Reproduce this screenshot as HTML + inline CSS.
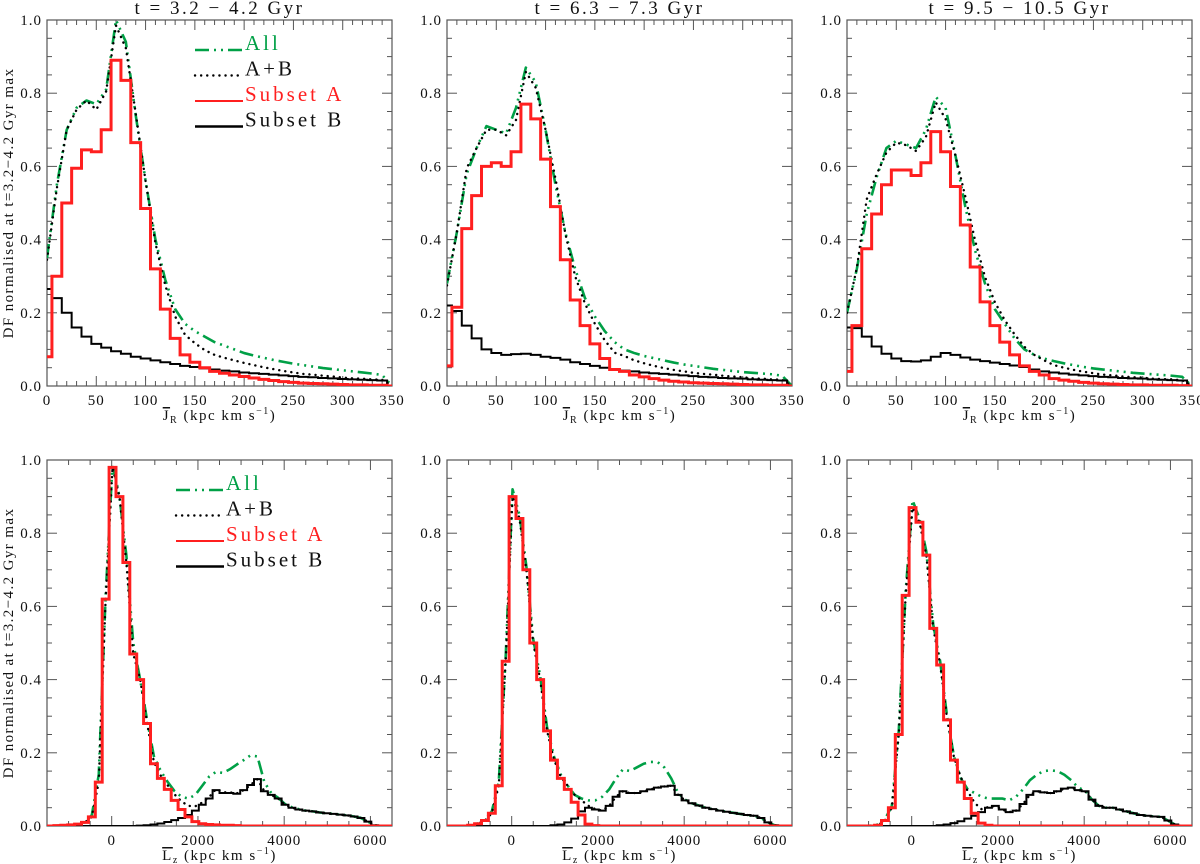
<!DOCTYPE html>
<html><head><meta charset="utf-8">
<style>
body{margin:0;background:#fff;}
svg{display:block;font-family:"Liberation Serif",serif;}
</style></head>
<body>
<svg id="chart" width="1200" height="864" viewBox="0 0 1200 864" xmlns="http://www.w3.org/2000/svg"></svg>
<script>
// ---------- Data: top row (J_R, bins of 10, centers 0..340) ----------
const jrCenters = [0,10,20,30,40,50,60,70,80,90,100,110,120,130,140,150,160,170,180,190,200,210,220,230,240,250,260,270,280,290,300,310,320,330,340];
const jrAllX = [0,10,20,30,40,50,60,70,80,90,100,110,120,130,140,150,160,170,180,190,200,210,220,230,240,250,260,270,280,290,300,310,320,330,340,350];
const jrTicks = [0,50,100,150,200,250,300,350];
const yTicks = [0.0,0.2,0.4,0.6,0.8,1.0];

const p1A = [0.08,0.30,0.50,0.595,0.645,0.64,0.70,0.89,0.835,0.665,0.485,0.32,0.21,0.13,0.085,0.065,0.05,0.04,0.035,0.03,0.026,0.022,0.018,0.015,0.012,0.01,0.008,0.007,0.006,0.005,0.004,0.003,0.003,0.002,0.002];
const p1B = [0.265,0.24,0.20,0.16,0.135,0.115,0.105,0.095,0.088,0.08,0.075,0.07,0.065,0.06,0.055,0.052,0.048,0.045,0.042,0.04,0.037,0.035,0.033,0.031,0.029,0.027,0.025,0.024,0.022,0.021,0.019,0.018,0.017,0.016,0.015];
const p1All = [0.35,0.55,0.70,0.76,0.78,0.77,0.81,1.0,0.94,0.74,0.56,0.40,0.29,0.21,0.17,0.15,0.135,0.12,0.11,0.10,0.09,0.083,0.077,0.071,0.066,0.061,0.057,0.053,0.049,0.046,0.043,0.04,0.037,0.034,0.03,0.0];

const p2A = [0.055,0.215,0.43,0.52,0.60,0.61,0.60,0.64,0.77,0.73,0.62,0.49,0.345,0.235,0.165,0.115,0.075,0.045,0.04,0.03,0.025,0.02,0.016,0.013,0.011,0.009,0.008,0.007,0.006,0.005,0.004,0.003,0.003,0.002,0.002];
const p2B = [0.22,0.205,0.165,0.13,0.10,0.09,0.085,0.087,0.088,0.085,0.08,0.077,0.072,0.065,0.06,0.055,0.05,0.046,0.042,0.04,0.037,0.035,0.033,0.031,0.029,0.027,0.025,0.024,0.022,0.021,0.02,0.018,0.017,0.016,0.015];
const p2All = [0.28,0.42,0.58,0.65,0.71,0.70,0.69,0.76,0.87,0.83,0.70,0.55,0.42,0.32,0.24,0.19,0.15,0.12,0.10,0.09,0.082,0.076,0.07,0.064,0.059,0.055,0.051,0.047,0.044,0.041,0.038,0.036,0.034,0.032,0.028,0.0];

const p3A = [0.04,0.165,0.375,0.47,0.55,0.59,0.59,0.575,0.61,0.695,0.64,0.545,0.44,0.325,0.23,0.165,0.12,0.085,0.055,0.04,0.03,0.02,0.016,0.013,0.01,0.008,0.006,0.005,0.004,0.003,0.003,0.002,0.002,0.002,0.001];
const p3B = [0.16,0.158,0.135,0.108,0.088,0.075,0.068,0.067,0.07,0.08,0.09,0.085,0.078,0.072,0.068,0.064,0.06,0.056,0.052,0.045,0.04,0.037,0.034,0.031,0.029,0.027,0.025,0.024,0.022,0.021,0.02,0.018,0.017,0.016,0.015];
const p3All = [0.20,0.32,0.47,0.57,0.65,0.67,0.66,0.65,0.70,0.79,0.76,0.63,0.49,0.37,0.28,0.21,0.17,0.13,0.10,0.085,0.075,0.068,0.062,0.057,0.052,0.048,0.045,0.042,0.039,0.036,0.034,0.032,0.03,0.028,0.025,0.0];

// ---------- Data: bottom row (L_z, bins of 160, centers -1420..6420) ----------
const lzCenters = [-1420,-1260,-1100,-940,-780,-620,-460,-300,-140,20,180,340,500,660,820,980,1140,1300,1460,1620,1780,1940,2100,2260,2420,2580,2740,2900,3060,3220,3380,3540,3700,3860,4020,4180,4340,4500,4660,4820,4980,5140,5300,5460,5620,5780,5940,6100,6260,6420];
const lzTicks = [0,2000,4000,6000];

const p4A = [0,0.001,0.002,0.003,0.005,0.01,0.025,0.12,0.62,0.98,0.90,0.72,0.47,0.40,0.28,0.17,0.13,0.10,0.07,0.045,0.025,0.012,0.006,0.004,0.003,0.002,0.002,0.001,0,0,0,0,0,0,0,0,0,0,0,0,0,0,0,0,0,0,0,0,0,0];
const p4B = [0,0,0,0,0,0,0,0,0,0,0,0,0,0.001,0.002,0.004,0.007,0.011,0.016,0.022,0.03,0.042,0.058,0.075,0.098,0.09,0.09,0.088,0.098,0.112,0.128,0.095,0.085,0.075,0.058,0.05,0.045,0.042,0.04,0.037,0.035,0.033,0.031,0.029,0.026,0.022,0.012,0.002,0,0];
const p4All = [0,0.001,0.002,0.003,0.005,0.01,0.03,0.14,0.63,0.99,0.90,0.74,0.50,0.40,0.29,0.19,0.15,0.12,0.095,0.08,0.075,0.085,0.11,0.135,0.148,0.145,0.155,0.168,0.18,0.193,0.19,0.12,0.09,0.077,0.06,0.051,0.046,0.042,0.04,0.037,0.035,0.033,0.031,0.029,0.026,0.022,0.012,0.002,0,0];

const p5A = [0,0,0,0.002,0.006,0.015,0.035,0.11,0.45,0.90,0.84,0.70,0.50,0.40,0.26,0.18,0.13,0.10,0.065,0.03,0.005,0.001,0,0,0,0,0,0,0,0,0,0,0,0,0,0,0,0,0,0,0,0,0,0,0,0,0,0,0,0];
const p5B = [0,0,0,0,0,0,0,0,0,0,0,0,0,0,0,0.002,0.004,0.01,0.02,0.04,0.05,0.045,0.042,0.055,0.08,0.095,0.09,0.09,0.095,0.1,0.105,0.108,0.11,0.085,0.07,0.062,0.056,0.05,0.046,0.042,0.039,0.036,0.033,0.03,0.028,0.022,0.01,0.002,0,0];
const p5All = [0,0,0,0.002,0.007,0.017,0.04,0.12,0.46,0.92,0.85,0.71,0.51,0.41,0.27,0.19,0.14,0.11,0.085,0.075,0.07,0.07,0.08,0.10,0.13,0.155,0.15,0.16,0.17,0.175,0.175,0.16,0.13,0.09,0.072,0.062,0.056,0.05,0.046,0.042,0.039,0.036,0.033,0.03,0.028,0.022,0.01,0.002,0,0];

const p6A = [0,0,0,0,0.002,0.015,0.05,0.25,0.63,0.87,0.83,0.74,0.54,0.44,0.29,0.18,0.12,0.075,0.035,0.008,0.002,0,0,0,0,0,0,0,0,0,0,0,0,0,0,0,0,0,0,0,0,0,0,0,0,0,0,0,0,0];
const p6B = [0,0,0,0,0,0,0,0,0,0,0,0,0,0.002,0.004,0.008,0.013,0.02,0.028,0.038,0.05,0.055,0.045,0.038,0.042,0.06,0.085,0.095,0.092,0.09,0.095,0.102,0.105,0.098,0.095,0.072,0.055,0.05,0.05,0.045,0.04,0.035,0.03,0.028,0.026,0.025,0.015,0.004,0,0];
const p6All = [0,0,0,0.001,0.004,0.018,0.055,0.26,0.64,0.89,0.84,0.75,0.55,0.45,0.30,0.19,0.13,0.10,0.09,0.08,0.075,0.075,0.075,0.07,0.08,0.10,0.125,0.14,0.15,0.152,0.15,0.14,0.125,0.105,0.097,0.072,0.055,0.05,0.05,0.045,0.04,0.035,0.03,0.028,0.026,0.025,0.015,0.004,0,0];

const titles = ["t = 3.2 \u2212 4.2 Gyr","t = 6.3 \u2212 7.3 Gyr","t = 9.5 \u2212 10.5 Gyr"];

// ---------- Rendering ----------
const NS = "http://www.w3.org/2000/svg";
const svg = document.getElementById("chart");
function mk(tag, attrs, parent){
  const e = document.createElementNS(NS, tag);
  for (const k in attrs) e.setAttribute(k, attrs[k]);
  (parent||svg).appendChild(e);
  return e;
}
const GREEN = "#00a046", RED = "#ff1f1f";

function panel(idx, px, py, xmin, xmax, binW, minorStep, majorTicks, centers, A, B, allX, All, xlab, sub, title, legendX, legendY){
  const W = 345, H = 366;
  const g = mk("g", {});
  
  
  const sx = v => px + (v - xmin) / (xmax - xmin) * W;
  const sy = v => py + H - v * H;
  const clip = mk("clipPath", {id: "clip" + idx}, g);
  mk("rect", {x: px, y: py, width: W, height: H}, clip);

  const frame = mk("rect", {x: px, y: py, width: W, height: H, fill: "none", stroke: "#555", "stroke-width": 1.2}, g);
  
  

  const startM = Math.ceil(xmin / minorStep) * minorStep;
  for (let v = startM; v <= xmax + 1e-9; v += minorStep) {
    const major = majorTicks.indexOf(v) >= 0;
    const L = major ? 10 : 5, x = sx(v);
    mk("line", {x1: x, y1: py + H, x2: x, y2: py + H - L, stroke: "#555", "stroke-width": 1}, g);
    mk("line", {x1: x, y1: py, x2: x, y2: py + L, stroke: "#555", "stroke-width": 1}, g);
  }
  majorTicks.forEach(v => {
    const t = mk("text", {x: sx(v), y: py + H + 19, "font-size": 15, "letter-spacing": 1, "text-anchor": "middle", fill: "#111"}, g);
    t.textContent = String(v);
    
    
  });
  for (let k = 0; k <= 20; k++) {
    const v = k * 0.05, major = k % 4 === 0, y = sy(v), L = major ? 10 : 5;
    mk("line", {x1: px, y1: y, x2: px + L, y2: y, stroke: "#555", "stroke-width": 1}, g);
    mk("line", {x1: px + W, y1: y, x2: px + W - L, y2: y, stroke: "#555", "stroke-width": 1}, g);
  }
  yTicks.forEach(v => {
    const t = mk("text", {x: px - 5, y: sy(v) + 5, "font-size": 15, "letter-spacing": 1, "text-anchor": "end", fill: "#111"}, g);
    t.textContent = v.toFixed(1);
    
    
  });

  const plot = mk("g", {"clip-path": "url(#clip" + idx + ")"}, g);
  function stepPath(vals){
    let d = "";
    vals.forEach((v, i) => {
      const x0 = Math.max(xmin, centers[i] - binW/2), x1 = Math.min(xmax, centers[i] + binW/2);
      d += (i === 0 ? "M" + sx(x0) + "," + sy(v) : "L" + sx(x0) + "," + sy(v)) + "L" + sx(x1) + "," + sy(v);
    });
    const lastEnd = Math.min(xmax, centers[centers.length-1] + binW/2);
    d += "L" + sx(lastEnd) + "," + sy(0) + "L" + sx(xmax) + "," + sy(0);
    return d;
  }
  let dAll = "";
  All.forEach((v, i) => { dAll += (i ? "L" : "M") + sx(allX[i]) + "," + sy(v); });
  const pAll = mk("path", {d: dAll, fill: "none", stroke: GREEN, "stroke-width": 2.6, "stroke-dasharray": "14,5,2,5,2,5,2,5", "stroke-linejoin": "round"}, plot);
  
  
  let dSum = "";
  A.forEach((v, i) => { dSum += (i ? "L" : "M") + sx(centers[i]) + "," + sy(v + B[i]); });
  dSum += "L" + sx(xmax) + "," + sy(0);
  const pSum = mk("path", {d: dSum, fill: "none", stroke: "#000", "stroke-width": 2.4, "stroke-dasharray": "0.1,6", "stroke-linecap": "round"}, plot);
  
  
  const pB = mk("path", {d: stepPath(B), fill: "none", stroke: "#000", "stroke-width": 2}, plot);
  
  
  const pA = mk("path", {d: stepPath(A), fill: "none", stroke: RED, "stroke-width": 3}, plot);
  
  

  const xl = mk("text", {x: px + W/2, y: py + H + 34, "font-size": 15, "letter-spacing": 1.5, "text-anchor": "middle", fill: "#111"}, g);
  
  
  const t1 = mk("tspan", {"text-decoration": "overline"}, xl); t1.textContent = xlab;
  const t2 = mk("tspan", {"font-size": 10, dy: 3}, xl); t2.textContent = sub;
  const t3 = mk("tspan", {dy: -3}, xl); t3.textContent = " (kpc km s";
  const t4 = mk("tspan", {"font-size": 10, dy: -6}, xl); t4.textContent = "\u22121";
  const t5 = mk("tspan", {dy: 6}, xl); t5.textContent = ")";

  if (title) {
    const tt = mk("text", {x: px + W/2, y: 14, "font-size": 19, "letter-spacing": 2.5, "text-anchor": "middle", fill: "#111"}, g);
    tt.textContent = title;
    
    
  }
  if (idx % 3 === 0) {
    const yl = mk("text", {x: 0, y: 0, "font-size": 15, "letter-spacing": 1.4, "text-anchor": "middle", fill: "#111", transform: "translate(13," + (py + H/2) + ") rotate(-90)"}, g);
    yl.textContent = "DF normalised at t=3.2\u22124.2 Gyr max";
    
    
  }
  if (legendX) {
    const items = [["All", GREEN, "14,5,2,5,2,5", 2.6], ["A+B", "#000", "0.1,6", 2.4], ["Subset A", RED, "", 2], ["Subset B", "#000", "", 2.6]];
    items.forEach((it, i) => {
      const y = legendY + i * 25.5;
      const ln = mk("line", {x1: legendX, y1: y, x2: legendX + 48, y2: y, stroke: it[1], "stroke-width": it[3], "stroke-dasharray": it[2], "stroke-linecap": it[2] === "0.1,6" ? "round" : "butt"}, g);
      
      
      const tx = mk("text", {x: legendX + 50, y: y, "font-size": 21, "letter-spacing": 3, fill: it[1] === RED ? RED : (it[1] === GREEN ? GREEN : "#111")}, g);
      tx.textContent = it[0];
      
      
    });
  }
}

const topData = [[p1A,p1B,p1All],[p2A,p2B,p2All],[p3A,p3B,p3All]];
const botData = [[p4A,p4B,p4All],[p5A,p5B,p5All],[p6A,p6B,p6All]];
const lefts = [47, 447, 847];
for (let i = 0; i < 3; i++) {
  panel(i, lefts[i], 20, 0, 350, 10, 10, jrTicks, jrCenters, topData[i][0], topData[i][1], jrAllX, topData[i][2], "J", "R", titles[i], i === 0 ? 195 : 0, 50);
  panel(i + 3, lefts[i], 460, -1500, 6500, 160, 500, lzTicks, lzCenters, botData[i][0], botData[i][1], lzCenters, botData[i][2], "L", "z", null, i === 0 ? 176 : 0, 490);
}
</script>
</body></html>
